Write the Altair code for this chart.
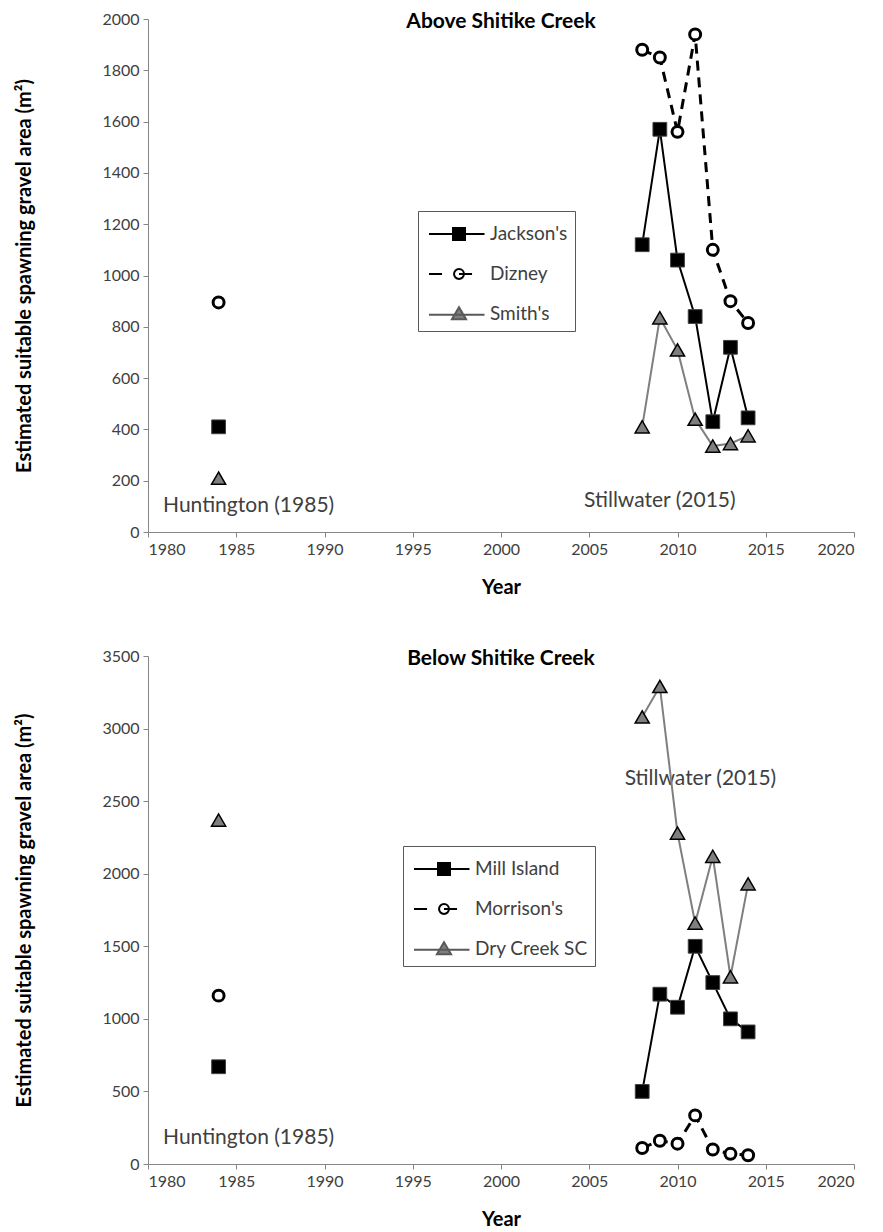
import altair as alt
import pandas as pd

FONT = "Lato"

# ---------------- data ----------------
years_recent = [2008, 2009, 2010, 2011, 2012, 2013, 2014]
year_hist = 1984

above_sites = ["Jackson's", "Dizney", "Smith's"]
above_hist = [410, 895, 210]
above_jackson = [1120, 1570, 1060, 840, 430, 720, 445]
above_dizney = [1880, 1850, 1560, 1940, 1100, 900, 815]
above_smith = [410, 835, 710, 440, 335, 345, 375]

below_sites = ["Mill Island", "Morrison's", "Dry Creek SC"]
below_hist = [670, 1160, 2370]
below_mill = [500, 1170, 1080, 1500, 1250, 1000, 910]
below_morrison = [110, 160, 140, 335, 100, 70, 60]
below_dry = [3080, 3290, 2280, 1660, 2120, 1290, 1930]

ann_labels = ["Huntington  (1985)", "Stillwater (2015)"]
above_ann_x = [1985.7, 2009.0]
above_ann_y = [100, 120]
below_ann_x = [1985.7, 2011.3]
below_ann_y = [180, 2650]

x_ticks = [1980, 1985, 1990, 1995, 2000, 2005, 2010, 2015, 2020]
above_y_ticks = [0, 200, 400, 600, 800, 1000, 1200, 1400, 1600, 1800, 2000]
below_y_ticks = [0, 500, 1000, 1500, 2000, 2500, 3000, 3500]

# ---------------- styles ----------------
line_colors = ["#000000", "#000000", "#7f7f7f"]
line_widths = [2, 3, 2]
line_dashed = [False, True, False]
marker_shapes = ["square", "circle", "triangle-up"]
marker_fills = ["#000000", "#ffffff", "#7f7f7f"]
marker_strokes = ["#404040", "#000000", "#000000"]
marker_stroke_widths = [1, 3, 1.5]
marker_sizes = [190, 120, 200]

# legend glyphs: line segment(s) plus marker, in symbol units (size 900 -> 15 px per unit)
leg_paths = [
    "M-0.8,0H2.9M0.8,-0.4H1.6V0.4H0.8Z",
    "M-0.8,0H0.07M1.2,0H2.07M1.53,0A0.33,0.33 0 1,1 0.87,0A0.33,0.33 0 1,1 1.53,0Z",
    "M-0.8,0.05H2.9M1.2,-0.45L1.67,0.35H0.73Z",
]
leg_fills = ["#000000", "#ffffff", "#7f7f7f"]
leg_strokes = ["#000000", "#000000", "#595959"]

AXIS_GREY = "#868686"
TEXT_GREY = "#404040"


def build_df(sites, hist, recent):
    rows = []
    for i, s in enumerate(sites):
        rows.append({"site": s, "year": year_hist, "value": hist[i], "period": "hist"})
        for y, v in zip(years_recent, recent[i]):
            rows.append({"site": s, "year": y, "value": v, "period": "recent"})
    return pd.DataFrame(rows)


def panel(title, sites, hist, recent, ymax, yticks, ann_x, ann_y, lx, ly, height):
    df = build_df(sites, hist, recent)
    x = alt.X("year:Q", scale=alt.Scale(domain=[1980, 2020], nice=False, zero=False),
              axis=alt.Axis(values=x_ticks, format="d", title="Year"))
    y = alt.Y("value:Q", scale=alt.Scale(domain=[0, ymax], nice=False),
              axis=alt.Axis(values=yticks, format="d",
                            title="Estimated suitable spawning gravel area (m²)"))
    base = alt.Chart(df)

    ann_df = pd.DataFrame({"label": ann_labels, "year": ann_x, "value": ann_y})
    layers = [
        alt.Chart(ann_df).mark_text(font=FONT, fontSize=21, color=TEXT_GREY).encode(
            x=x, y=y, text="label:N")
    ]
    for i, s in enumerate(sites):
        kw = dict(color=line_colors[i], strokeWidth=line_widths[i])
        if line_dashed[i]:
            kw["strokeDash"] = [10, 7]
        layers.append(
            base.transform_filter(alt.datum.site == s)
            .transform_filter(alt.datum.period == "recent")
            .mark_line(**kw).encode(x=x, y=y, order="year:Q")
        )
    for i, s in enumerate(sites):
        layers.append(
            base.transform_filter(alt.datum.site == s)
            .mark_point(shape=marker_shapes[i], fill=marker_fills[i], fillOpacity=1,
                        stroke=marker_strokes[i], strokeWidth=marker_stroke_widths[i],
                        size=marker_sizes[i], opacity=1)
            .encode(x=x, y=y)
        )

    leg = alt.Legend(title=None, orient="none", legendX=lx, legendY=ly,
                     strokeColor="#595959", fillColor="white", padding=7,
                     labelFont=FONT, labelFontSize=19, labelColor=TEXT_GREY,
                     symbolSize=900, symbolStrokeWidth=2, rowPadding=14, labelOffset=33)
    layers.append(
        base.transform_filter("datum.value < 0")
        .mark_point(filled=True, opacity=1, strokeWidth=2)
        .encode(
            x=x, y=y,
            shape=alt.Shape("site:N", scale=alt.Scale(domain=sites, range=leg_paths), legend=leg),
            fill=alt.Fill("site:N", scale=alt.Scale(domain=sites, range=leg_fills), legend=leg),
            stroke=alt.Stroke("site:N", scale=alt.Scale(domain=sites, range=leg_strokes), legend=leg),
        )
    )
    return alt.layer(*layers).properties(
        width=706, height=height,
        title=alt.TitleParams(title, font=FONT, fontSize=21, fontWeight="bold",
                              color="#000000", offset=-21, anchor="middle"),
    )


top = panel("Above Shitike Creek", above_sites, above_hist,
            [above_jackson, above_dizney, above_smith], 2000, above_y_ticks,
            above_ann_x, above_ann_y, 270, 192, 513)
bottom = panel("Below Shitike Creek", below_sites, below_hist,
               [below_mill, below_morrison, below_dry], 3500, below_y_ticks,
               below_ann_x, below_ann_y, 255, 190, 508)

chart = (
    alt.vconcat(top, bottom, spacing=51)
    .resolve_scale(shape="independent", fill="independent", stroke="independent")
    .resolve_legend(shape="independent", fill="independent", stroke="independent")
    .properties(padding={"left": 6, "top": 3, "right": 10, "bottom": 2})
    .configure_view(stroke=None)
    .configure_axis(
        grid=False, domainColor=AXIS_GREY, tickColor=AXIS_GREY, tickSize=5,
        labelFont=FONT, labelFontSize=16, labelColor=TEXT_GREY, labelPadding=4,
        titleFont=FONT, titleFontSize=20, titleFontWeight="bold", titleColor="#000000",
    )
    .configure_axisX(titlePadding=20)
    .configure_axisY(titlePadding=67)
)

chart.save("out.html", embed_options={"renderer": "svg", "actions": False})
